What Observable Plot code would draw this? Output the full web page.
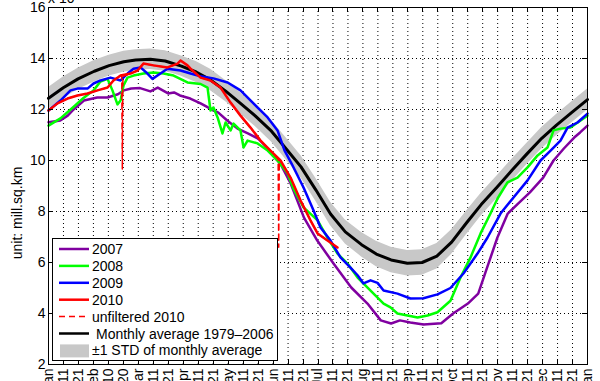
<!DOCTYPE html>
<html><head><meta charset="utf-8">
<script src="https://cdn.jsdelivr.net/npm/d3@7"></script>
<script src="https://cdn.jsdelivr.net/npm/@observablehq/plot@0.6"></script>
<style>
html,body{margin:0;padding:0;background:#fff;overflow:hidden;}
#chart{position:relative;width:600px;height:381px;overflow:hidden;}
</style></head><body><div id="chart"></div>
<script>
// x tick labels (37 ticks spanning the year)
const xTickLabels = ["Jan","11","21","Feb","10","20","Mar","11","21","Apr","11","21","May","11","21","Jun","11","21",
  "Jul","11","21","Aug","11","21","Sep","11","21","Oct","11","21","Nov","11","21","Dec","11","21","Jan"];
const yTickValues = [2,4,6,8,10,12,14,16];

// Monthly average 1979-2006 and its standard deviation
const avgDays = [0,10,20,31,41,51,59,69,79,90,100,110,120,130,140,151,161,171,181,191,201,212,222,232,243,253,263,273,283,293,304,314,324,334,344,354,365];
const avgVals = [12.44,12.85,13.20,13.50,13.72,13.87,13.94,13.97,13.90,13.70,13.47,13.15,12.72,12.24,11.75,11.15,10.45,9.75,8.85,7.90,7.20,6.70,6.33,6.10,5.97,6.00,6.25,6.80,7.55,8.27,8.97,9.63,10.26,10.87,11.39,11.87,12.39];
const stdVals = [0.42,0.42,0.42,0.42,0.41,0.41,0.40,0.40,0.40,0.40,0.41,0.42,0.42,0.42,0.42,0.42,0.43,0.44,0.45,0.46,0.47,0.48,0.5,0.5,0.5,0.5,0.5,0.48,0.46,0.45,0.44,0.43,0.42,0.42,0.41,0.41,0.41];

// 2007
const days2007 = [0,8,13,17,24,33,40,47,51,56,62,69,74,81,85,89,96,103,108,115,121,128,135,142,148,152,157,164,173,182,193,205,216,225,232,238,245,254,266,274,284,291,297,304,311,318,326,335,342,349,356,360,365];
const ext2007 = [11.5,11.57,11.76,12.0,12.35,12.47,12.47,12.6,12.75,12.82,12.84,12.71,12.86,12.63,12.67,12.55,12.43,12.24,12.08,11.88,11.57,11.25,11.06,10.86,10.5,10.2,9.88,9.1,7.76,6.86,5.96,5.02,4.39,3.73,3.61,3.73,3.65,3.57,3.62,4.0,4.39,4.78,5.8,6.98,7.92,8.31,8.75,9.33,10.0,10.47,10.9,11.1,11.37];

// 2008
const days2008 = [0,8.1,16.9,23.7,30.5,35.2,40.0,43.3,46.7,48.8,50.8,53.5,57.6,64.3,71.1,77.9,84.7,94.1,103.0,107.7,109.7,111.7,114.5,117.8,119.9,123.3,125.3,130.0,132.1,134.8,141.6,148.4,155.1,161.9,165.9,172.7,182.2,188.9,195.7,202.5,209.3,218.1,226.9,231.6,236.3,243.1,249.9,256.7,263.4,272.2,279.0,285.8,292.6,299.3,304.1,310.8,317.6,324.4,331.2,337.9,342.0,346.7,353.5,360.3,365];
const ext2008 = [11.37,11.65,12.1,12.45,12.75,13.1,13.2,12.75,12.2,12.35,12.94,13.25,13.33,13.41,13.45,13.41,13.33,13.06,13.0,12.86,11.96,12.08,11.69,11.06,11.49,11.18,11.45,11.18,10.51,10.78,10.67,10.39,10.0,9.5,8.9,8.16,7.65,6.98,6.35,5.96,5.41,4.9,4.39,4.24,4.0,3.92,3.84,3.92,4.05,4.5,5.41,6.2,7.14,7.92,8.51,9.14,9.33,9.73,10.2,10.51,11.18,11.25,11.29,11.57,11.76];

// 2009
const days2009 = [0,8.1,14.9,19.6,26.4,30.5,35.2,42.0,48.8,53.5,57.6,62.3,67.0,70.4,75.8,80.6,89.4,96.2,103.0,111.7,121.3,130.0,138.8,148.4,155.1,159.8,164.6,172.7,179.5,184.2,191.0,197.7,204.5,209.3,213.3,218.1,222.8,226.9,236.3,245.1,253.9,263.4,272.2,281.0,290.5,297.3,306.1,314.9,324.4,333.2,340.0,346.7,351.5,358.2,365];
const ext2009 = [11.96,12.35,12.75,12.82,12.82,13.02,13.14,13.25,13.14,13.41,13.6,13.65,13.41,13.2,13.41,13.6,13.53,13.41,13.3,13.22,13.06,12.75,12.24,11.69,11.18,10.4,9.88,8.94,8.04,7.37,6.86,6.2,5.8,5.5,5.18,5.3,5.2,4.9,4.78,4.59,4.6,4.75,5.0,5.57,6.35,6.98,7.92,8.55,9.22,10.0,10.39,10.78,11.29,11.49,11.84];

// 2010 (filtered)
const days2010 = [0,6.1,12.9,19.6,26.4,33.2,40.0,44.0,48.8,55.5,60.3,64.3,71.1,80.6,87.4,89.4,94.1,96.2,103.0,109.7,116.5,123.3,130.0,136.8,143.6,150.3,157.1,163.9,170.7,177.4,182.2,188.9,195.7];
const ext2010 = [11.96,12.24,12.43,12.55,12.63,12.75,12.86,13.14,13.33,13.41,13.53,13.8,13.73,13.65,13.8,13.92,13.73,13.6,13.25,13.14,12.86,12.27,11.76,11.29,10.78,10.39,10.0,9.33,8.43,7.65,7.14,6.86,6.59];

// unfiltered 2010
const daysUnf2010 = [0,6.1,12.9,19.6,26.4,33.2,40.0,44.0,48.8,49.6,50.0,50.4,55.5,60.3,64.3,71.1,80.6,87.4,89.4,94.1,96.2,103.0,109.7,116.5,123.3,130.0,136.8,143.6,150.3,155.5,155.9,156.3,157.1,163.9,170.7,177.4,182.2,188.9,195.7];
const extUnf2010 = [11.96,12.24,12.43,12.55,12.63,12.75,12.86,13.14,13.33,13.3,9.65,13.3,13.41,13.53,13.8,13.73,13.65,13.8,13.92,13.73,13.6,13.25,13.14,12.86,12.27,11.76,11.29,10.78,10.39,10.05,6.6,10.05,10.0,9.33,8.43,7.65,7.14,6.86,6.59];

const legendLabels = ["2007","2008","2009","2010","unfiltered 2010"," Monthly average 1979\u20132006","\u00b11 STD of monthly average"];
const legendColors = ["#8000a0","#00ff00","#0000ff","#ff0000","#ff0000","#000000","#c8c8c8"];

const rows = (ds, vs) => ds.map((d, i) => ({day: d, ext: vs[i]}));
const avg = avgDays.map((d, i) => ({day: d, ext: avgVals[i], lo: avgVals[i] - stdVals[i], hi: avgVals[i] + stdVals[i]}));
const xTicks = xTickLabels.map((_, i) => i * 365 / (xTickLabels.length - 1));
const FONT = "'Liberation Sans', Arial, Helvetica, sans-serif";

const chart = Plot.plot({
  width: 600, height: 381,
  marginLeft: 48, marginRight: 13, marginTop: 7, marginBottom: 17,
  style: {fontFamily: FONT, fontSize: "14px", background: "white", color: "black"},
  x: {domain: [0, 365]},
  y: {domain: [2, 16]},
  marks: [
    Plot.gridX(xTicks.slice(1, -1), {stroke: "black", strokeOpacity: 1, strokeWidth: 1, strokeDasharray: "1,3"}),
    Plot.gridY(yTickValues.slice(1, -1), {stroke: "black", strokeOpacity: 1, strokeWidth: 1, strokeDasharray: "1,3"}),
    Plot.areaY(avg, {x: "day", y1: "lo", y2: "hi", fill: legendColors[6]}),
    Plot.line(avg, {x: "day", y: "ext", stroke: legendColors[5], strokeWidth: 3}),
    Plot.line(rows(days2007, ext2007), {x: "day", y: "ext", stroke: legendColors[0], strokeWidth: 2.5}),
    Plot.line(rows(days2008, ext2008), {x: "day", y: "ext", stroke: legendColors[1], strokeWidth: 2.5}),
    Plot.line(rows(days2009, ext2009), {x: "day", y: "ext", stroke: legendColors[2], strokeWidth: 2.5}),
    Plot.line(rows(daysUnf2010, extUnf2010), {x: "day", y: "ext", stroke: legendColors[4], strokeWidth: 1.5, strokeDasharray: "6,4"}),
    Plot.line(rows(days2010, ext2010), {x: "day", y: "ext", stroke: legendColors[3], strokeWidth: 2.5}),
    Plot.frame({stroke: "black", strokeWidth: 1}),
    Plot.axisY({ticks: yTickValues, tickSize: 0, tickPadding: 3, label: null, fontSize: 14}),
    Plot.axisX({ticks: xTicks, tickSize: 0, tickPadding: 4, tickRotate: -90, label: null, fontSize: 14,
      tickFormat: d => xTickLabels[Math.round(d * (xTickLabels.length - 1) / 365)]})
  ]
});
document.getElementById("chart").appendChild(chart);

// inward ticks on all four sides, through the plot's scales
const sx = chart.scale("x"), sy = chart.scale("y");
const svg = d3.select(chart);
const [yb, yt] = [sy.apply(2), sy.apply(16)];
const [xl, xr] = [sx.apply(0), sx.apply(365)];
const tg = svg.append("g").attr("stroke", "black").attr("stroke-width", 1);
xTicks.forEach(t => {
  const x = Math.round(sx.apply(t)) + 0.5;
  tg.append("line").attr("x1", x).attr("x2", x).attr("y1", yb).attr("y2", yb - 5);
  tg.append("line").attr("x1", x).attr("x2", x).attr("y1", yt).attr("y2", yt + 5);
});
yTickValues.forEach(v => {
  const y = Math.round(sy.apply(v)) + 0.5;
  tg.append("line").attr("x1", xl).attr("x2", xl + 5).attr("y1", y).attr("y2", y);
  tg.append("line").attr("x1", xr).attr("x2", xr - 5).attr("y1", y).attr("y2", y);
});

// y axis title and exponent label
svg.append("text").attr("transform", "translate(22,213) rotate(-90)")
  .attr("text-anchor", "middle").attr("font-family", FONT).attr("font-size", 14)
  .text("unit: mill.sq.km");
svg.append("text").attr("x", 48).attr("y", 3).attr("text-anchor", "start")
  .attr("font-family", FONT).attr("font-size", 14).text("x 10");

// legend
const lg = svg.append("g").attr("font-family", FONT).attr("font-size", 14).attr("text-anchor", "start");
lg.append("rect").attr("x", 52.5).attr("y", 238.5).attr("width", 225).attr("height", 122)
  .attr("fill", "white").attr("stroke", "black");
legendLabels.forEach((lab, i) => {
  const y = 249 + i * 16.9;
  if (i === 6) {
    lg.append("rect").attr("x", 60).attr("y", y - 6).attr("width", 29).attr("height", 13).attr("fill", legendColors[i]);
  } else {
    lg.append("line").attr("x1", 59).attr("x2", 89).attr("y1", y).attr("y2", y)
      .attr("stroke", legendColors[i]).attr("stroke-width", i === 4 ? 1.5 : 2.5)
      .attr("stroke-dasharray", i === 4 ? "6,4" : null);
  }
  lg.append("text").attr("x", i === 5 ? 96 : 92).attr("y", y).attr("dy", "0.36em")
    .attr("text-anchor", "start").text(lab.trim());
});
</script>
</body></html>
